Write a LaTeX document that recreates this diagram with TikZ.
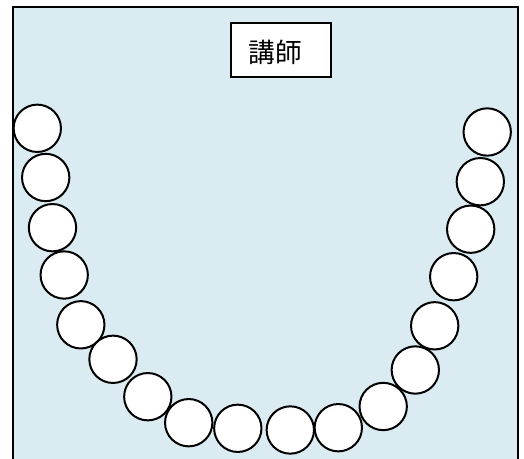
\documentclass[tikz,border=0pt]{standalone}
\usepackage{fontspec}
\newfontfamily\cjk{Noto Sans CJK JP}
\definecolor{bgblue}{RGB}{218,236,242}
\tikzset{
  seat/.style={circle, draw=black, fill=white, line width=1.5pt, minimum size=35.5pt, inner sep=0pt},
  frame/.style={draw=black, fill=bgblue, line width=1.7pt},
  teacherbox/.style={draw=black, fill=white, line width=1.4pt, minimum width=75pt, minimum height=40.5pt, inner sep=0pt}
}
\begin{document}
\begin{tikzpicture}[x=0.75pt, y=-0.75pt]
\useasboundingbox (0,0) rectangle (524,459);
\path[frame] (13,7) rectangle (518,470);
\node[teacherbox] (teacher) at (280.7,50.2) {};
\node[font=\cjk\fontsize{20pt}{20pt}\selectfont, inner sep=0pt] (label) at (275,52) {講師};
\foreach \n/\x/\y in {
  1/37.3/128.3, 2/45.7/177.5, 3/52.5/227.7, 4/64.2/275, 5/80.8/324.8,
  6/113/359.3, 7/147.8/396.7, 8/188.7/422.7, 9/237.8/428.3,
  10/290.3/430, 11/338.3/427.7, 12/383.2/406.5, 13/415.3/370,
  14/434.7/325.8, 15/453.7/276.7, 16/470.7/229.2, 17/480.3/181.7, 18/487.2/132}
  \node[seat] (s\n) at (\x,\y) {};
\end{tikzpicture}
\end{document}
